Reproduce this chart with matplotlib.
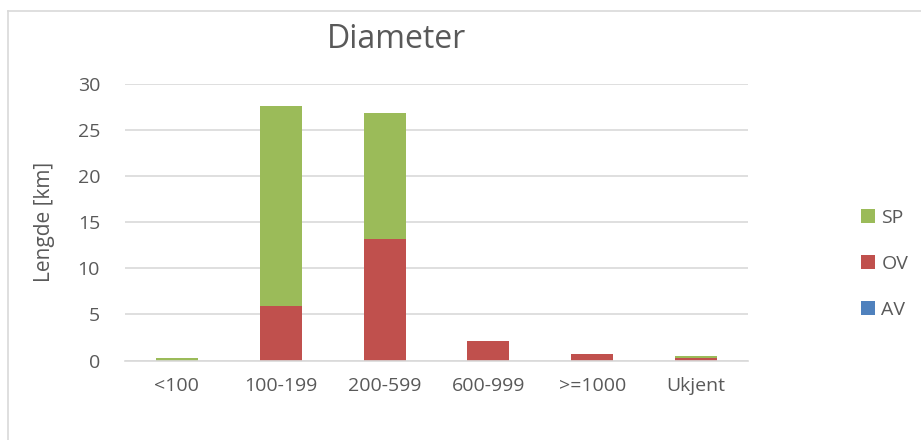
import numpy as np
import matplotlib.pyplot as plt
from matplotlib.lines import Line2D

categories = ['<100', '100-199', '200-599', '600-999', '>=1000', 'Ukjent']
av = [0.0, 0.0, 0.0, 0.0, 0.0, 0.0]
ov = [0.0, 5.9, 13.2, 2.1, 0.65, 0.25]
sp = [0.25, 21.7, 13.6, 0.0, 0.0, 0.25]

plt.rcParams['font.family'] = ['Open Sans', 'DejaVu Sans']
txt = '#595959'
W, H = 921, 440

fig = plt.figure(figsize=(W / 100, H / 100), dpi=100)
ax = fig.add_axes([125 / W, (H - 360.5) / H, 623 / W, 277 / H])

x = np.arange(len(categories))
w = 0.405
b_av = ax.bar(x, av, w, color='#4f81bd', label='AV')
b_ov = ax.bar(x, ov, w, bottom=av, color='#c0504d', label='OV')
b_sp = ax.bar(x, sp, w, bottom=np.add(av, ov), color='#9bbb59', label='SP')

ax.set_xlim(-0.5, len(categories) - 0.5)
ax.set_ylim(0, 30)
ax.set_yticks(range(0, 31, 5))
ax.set_xticks(x)
ax.set_xticklabels(categories)
ax.tick_params(axis='both', length=0, labelsize=14, colors=txt)
ax.tick_params(axis='x', pad=12)
ax.tick_params(axis='y', pad=18)
ax.yaxis.grid(True, color='#d9d9d9', linewidth=1.2)
ax.set_axisbelow(True)
for s in ['top', 'right', 'left']:
    ax.spines[s].set_visible(False)
ax.spines['bottom'].set_color('#d9d9d9')
ax.spines['bottom'].set_linewidth(1.2)

ax.set_ylabel('Lengde [km]', fontsize=15, color=txt, labelpad=16)
fig.text(396 / W, 1 - 40 / H, 'Diameter', fontsize=23, color=txt,
         ha='center', va='center')

ax.legend(handles=[b_sp, b_ov, b_av], loc='center left',
          bbox_to_anchor=(1.154, 0.349), frameon=False, fontsize=14,
          labelcolor=txt, handlelength=0.72, handleheight=0.72,
          handletextpad=0.3, labelspacing=1.45)

# chart area border (left and top edges visible)
border = dict(transform=fig.transFigure, color='#d9d9d9', linewidth=1.2)
fig.lines.append(Line2D([8 / W, 8 / W], [0, 1 - 11 / H], **border))
fig.lines.append(Line2D([8 / W, 1], [1 - 11 / H, 1 - 11 / H], **border))

fig.savefig('out.png', dpi=100)
